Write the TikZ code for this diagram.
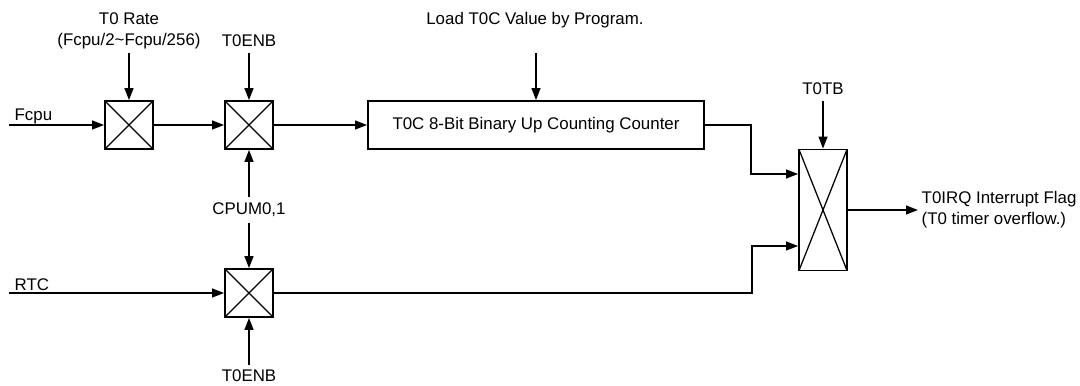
\documentclass[tikz,border=0pt]{standalone}
\usepackage{fontspec}
\setmainfont{Liberation Sans}
\usetikzlibrary{arrows.meta}

\begin{document}
\begin{tikzpicture}[x=0.025cm,y=-0.025cm,
	font=\fontsize{12}{15}\selectfont,
	sig/.style={line width=1.2pt,-{Triangle[length=0.3cm,width=0.22cm]}},
	wire/.style={line width=1.2pt},
	switchbox/.style={draw,line width=1.2pt,fill=white,minimum size=1.2cm,inner sep=0pt,
		path picture={\draw[line width=0.9pt]
			(path picture bounding box.north west) -- (path picture bounding box.south east)
			(path picture bounding box.north east) -- (path picture bounding box.south west);}},
	countbox/.style={draw,line width=1.2pt,minimum width=8.4cm,minimum height=1.2cm},
	lbl/.style={inner sep=1pt,align=center}]
	\useasboundingbox (0,0) rectangle (1080,386);
	% switches and counter
	\node[switchbox] (rate) at (129,125) {};
	\node[switchbox] (enb) at (249,125) {};
	\node[switchbox] (rtcsw) at (249,293) {};
	\node[countbox] (cnt) at (536,125) {T0C 8-Bit Binary Up Counting Counter};
	\node[switchbox,minimum height=3.025cm] (tb) at (823,210) {};
	% labels
	\node[lbl,anchor=west] (fcpulbl) at (13,116) {Fcpu};
	\node[lbl,anchor=west] (rtclbl) at (13,285) {RTC};
	\node[lbl] (ratelbl) at (129,31) {T0 Rate\\(Fcpu/2\textasciitilde Fcpu/256)};
	\node[lbl] (enblbl) at (249,41) {T0ENB};
	\node[lbl] (loadlbl) at (535,20) {Load T0C Value by Program.};
	\node[inner sep=4pt] (cpum) at (249,210) {CPUM0,1};
	\node[lbl] (enblbl2) at (249,376) {T0ENB};
	\node[lbl] (tblbl) at (823,89) {T0TB};
	\node[lbl,anchor=west,align=left] (irqlbl) at (920,210) {T0IRQ Interrupt Flag\\(T0 timer overflow.)};
	% free ends
	\coordinate (fcpu) at (9,125);
	\coordinate (rtc) at (9,293);
	\coordinate (rateIn) at (129,53);
	\coordinate (enbIn) at (249,53);
	\coordinate (loadIn) at (536,53);
	\coordinate (enbIn2) at (249,365);
	\coordinate (tbIn) at (823,101);
	\coordinate (irq) at (918,210);
	\coordinate (tbA) at ([yshift=0.9cm]tb.west);
	\coordinate (tbB) at ([yshift=-0.9cm]tb.west);
	% connectors
	\draw[sig] (fcpu) -- (rate.west);
	\draw[sig] (rate.east) -- (enb.west);
	\draw[sig] (enb.east) -- (cnt.west);
	\draw[sig] (rateIn) -- (rate.north);
	\draw[sig] (enbIn) -- (enb.north);
	\draw[sig] (loadIn) -- (cnt.north);
	\draw[sig] (cpum.north) -- (enb.south);
	\draw[sig] (cpum.south) -- (rtcsw.north);
	\draw[sig] (enbIn2) -- (rtcsw.south);
	\draw[sig] (rtc) -- (rtcsw.west);
	\draw[sig] (cnt.east) -- ++(46,0) |- (tbA);
	\draw[sig] (rtcsw.east) -- ++(478,0) |- (tbB);
	\draw[sig] (tbIn) -- (tb.north);
	\draw[sig] (tb.east) -- (irq);
\end{tikzpicture}
\end{document}
